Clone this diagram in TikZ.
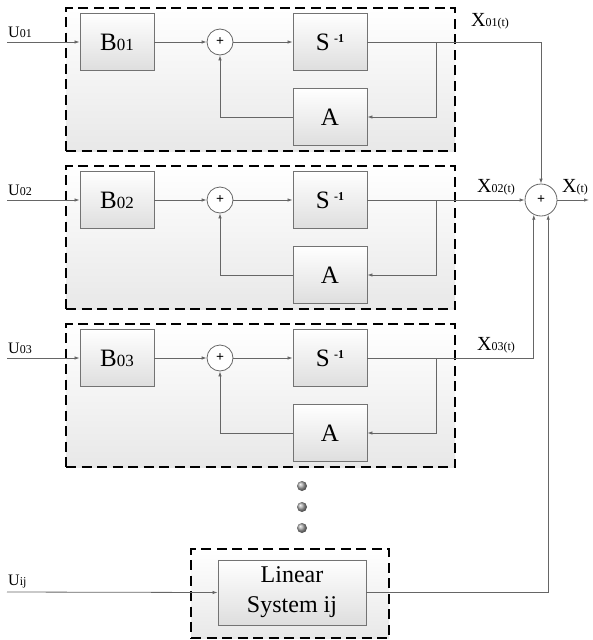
\documentclass[tikz,border=0pt]{standalone}
\usepackage{fontspec}
\setmainfont{Liberation Serif}
\usetikzlibrary{arrows.meta,shadings}
\begin{document}
\begin{tikzpicture}[x=1pt,y=-1pt,
  dbox/.style={draw=black, line width=1.7pt, dash pattern=on 10pt off 5.5pt, top color=white, bottom color=black!9, minimum width=389pt, minimum height=143pt, inner sep=0pt},
  blk/.style={draw=black!55, line width=0.9pt, top color=white, bottom color=black!13, minimum width=74pt, minimum height=57pt, inner sep=0pt},
  sumc/.style={circle, draw=black!60, line width=0.8pt, fill=white, minimum size=26pt, inner sep=0pt, font=\fontsize{14}{14}\selectfont\bfseries},
  conn/.style={draw=black!60, line width=0.8pt, -{Latex[length=5pt,width=3.5pt]}},
  lbl/.style={inner sep=0pt},
  bigf/.style={font=\fontsize{25}{25}\selectfont}
]
\useasboundingbox (0,0) rectangle (593,640);
\newcommand{\subsz}[1]{{\fontsize{17}{17}\selectfont #1}}
\newcommand{\lblsub}[1]{{\fontsize{12}{12}\selectfont #1}}

% right sum
\node[sumc, minimum size=32pt] (sumR) at (541,200) {+};
\coordinate (xout) at (589,200);
\draw[conn] (sumR.east) -- (xout);
\node[lbl, anchor=south west] (xl) at (562,195) {{\fontsize{20}{20}\selectfont X}\lblsub{(t)}};

\foreach \i/\yc in {1/42, 2/200, 3/358} {
  \node[dbox] (D\i) at (260.5,\yc+37.5) {};
  \node[blk, bigf] (B\i) at (117,\yc) {B\subsz{0\i}};
  \node[sumc] (s\i) at (220,\yc) {+};
  \node[blk, bigf] (S\i) at (330,\yc) {S\,\raisebox{8pt}{\fontsize{12}{12}\selectfont\bfseries -1}};
  \node[blk, bigf] (A\i) at (330,\yc+75) {A};
  \coordinate (u\i) at (7,\yc);
  \coordinate (f\i) at (436,\yc);
  \node[lbl, anchor=south west] (ul\i) at (8,\yc-4) {{\fontsize{16}{16}\selectfont U}\lblsub{0\i}};
  \draw[conn] (u\i) -- (B\i.west);
  \draw[conn] (B\i.east) -- (s\i.west);
  \draw[conn] (s\i.east) -- (S\i.west);
  \draw[conn] (f\i) |- (A\i.east);
  \draw[conn] (A\i.west) -| (s\i.south);
}
\node[lbl, anchor=south west] (xl1) at (471,29) {{\fontsize{20}{20}\selectfont X}\lblsub{01(t)}};
\node[lbl, anchor=south west] (xl2) at (477,195) {{\fontsize{20}{20}\selectfont X}\lblsub{02(t)}};
\node[lbl, anchor=south west] (xl3) at (477,353) {{\fontsize{20}{20}\selectfont X}\lblsub{03(t)}};

\draw[conn] (S1.east) -| (sumR.north);
\draw[conn] (S2.east) -- (sumR.west);
\draw[conn] (S3.east) -| (sumR.-116);

% dots
\foreach \k/\yy in {1/486, 2/507, 3/528} {
  \shade[ball color=black!35] (302,\yy) circle (5pt);
}

% linear system
\node[dbox, minimum width=198pt, minimum height=89pt] (DL) at (290,593.5) {};
\node[blk, minimum width=148pt, minimum height=65pt, align=center, font=\fontsize{24}{30}\selectfont] (LS) at (292,592.5) {Linear\\System ij};
\coordinate (uL) at (7,592);
\node[lbl, anchor=south west] (ulL) at (8,588) {{\fontsize{16}{16}\selectfont U}\lblsub{ij}};
\draw[conn] (uL) -- (LS.west);
\draw[conn] (LS.east) -| (sumR.-64);
\end{tikzpicture}
\end{document}
